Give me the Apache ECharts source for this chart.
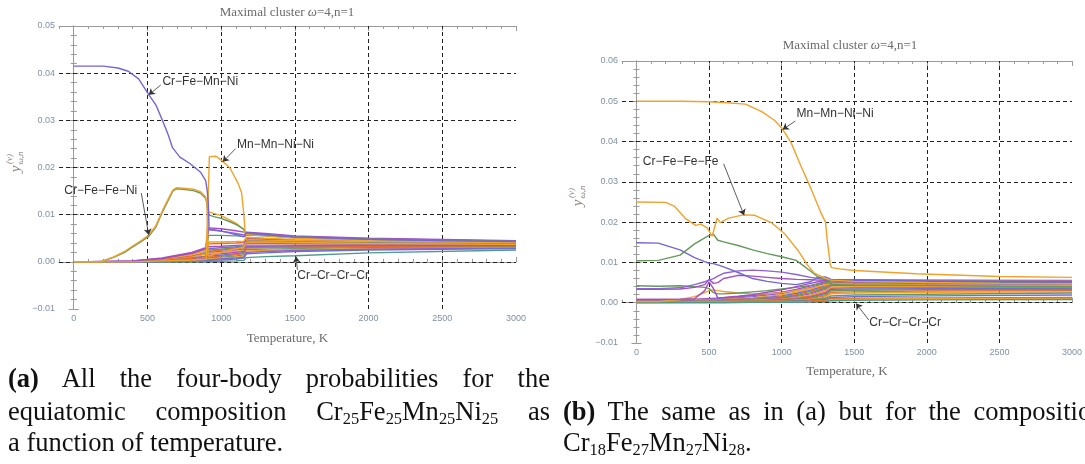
<!DOCTYPE html>
<html>
<head>
<meta charset="UTF-8">
<title>Maximal cluster probabilities</title>
<script src="https://cdn.jsdelivr.net/npm/echarts@6/dist/echarts.min.js"></script>
<style>
    html, body { margin: 0; padding: 0; background: #fff; overflow: hidden; }
    #main { position: absolute; left: 0; top: 0; width: 1085px; height: 464px; }
    .cap { position: absolute; font-family: 'Liberation Serif', serif; font-size: 26.5px; line-height: 32px; color: #111; white-space: nowrap; }
    .cap sub { font-size: 62%; vertical-align: -0.25em; line-height: 0; }
    .just { text-align: justify; text-align-last: justify; }
</style>
</head>
<body>
<div id="main"></div>
<!-- captions -->
<div class="cap just" style="left:8px;top:362px;width:542px;"><b>(a)</b> All the four-body probabilities for the</div>
<div class="cap just" style="left:8px;top:395px;width:542px;">equiatomic composition Cr<sub>25</sub>Fe<sub>25</sub>Mn<sub>25</sub>Ni<sub>25</sub> as</div>
<div class="cap" style="left:8px;top:426px;">a function of temperature.</div>
<div class="cap" style="left:563px;top:395px;word-spacing:6px;"><b>(b)</b> The same as in (a) but for the composition</div>
<div class="cap" style="left:563px;top:426px;">Cr<sub>18</sub>Fe<sub>27</sub>Mn<sub>27</sub>Ni<sub>28</sub>.</div>

<script type="text/javascript">
// ---- tick / grid values ----
var xTicks = [0, 500, 1000, 1500, 2000, 2500, 3000];
var xGrid = [500, 1000, 1500, 2000, 2500];
var yGridA = [0, 0.01, 0.02, 0.03, 0.04];
var yGridB = [0, 0.01, 0.02, 0.03, 0.04, 0.05];

// ---- (a) equiatomic: highlighted curves ----
var tCrFeMnNiA = [0, 200, 300, 370, 440, 510, 560, 600, 640, 670, 720, 790, 860, 895, 905, 913, 918, 950, 1000, 1060, 1110, 1140, 1155, 1170, 1200, 1300, 1500, 2000, 2500, 3000];
var crFeMnNiA = [0.0415, 0.0415, 0.0411, 0.0404, 0.0388, 0.0354, 0.0331, 0.0301, 0.0270, 0.0242, 0.0222, 0.0208, 0.0190, 0.0172, 0.0152, 0.0124, 0.0070, 0.0068, 0.0065, 0.0061, 0.0057, 0.0054, 0.0053, 0.0062, 0.0061, 0.0058, 0.0053, 0.0048, 0.0045, 0.0043];
var tCrFeFeNiA = [0, 180, 275, 345, 392, 462, 509, 556, 602, 637, 672, 696, 742, 812, 859, 894, 903, 912, 950, 1000, 1060, 1110, 1150, 1170, 1200, 1300, 1500, 2000, 2500, 3000];
var crFeFeNiA = [0, 0, 0.0011, 0.0022, 0.0032, 0.0046, 0.0057, 0.0076, 0.0109, 0.0131, 0.0152, 0.0157, 0.0156, 0.0154, 0.0149, 0.0138, 0.0127, 0.0012, 0.0016, 0.0020, 0.0024, 0.0028, 0.0031, 0.0041, 0.0042, 0.0042, 0.0041, 0.0039, 0.0038, 0.0037];
var greenTwinA = [0, 0, 0.0010, 0.0020, 0.0030, 0.0044, 0.0054, 0.0073, 0.0106, 0.0128, 0.0150, 0.0155, 0.0154, 0.0151, 0.0146, 0.0135, 0.0124, 0.0100, 0.0096, 0.0092, 0.0085, 0.0078, 0.0070, 0.0061, 0.0060, 0.0057, 0.0053, 0.0048, 0.0045, 0.0043];
var tMnMnNiNiA = [0, 400, 600, 800, 900, 912, 920, 964, 1003, 1060, 1114, 1139, 1155, 1162, 1170, 1200, 1300, 1500, 2000, 2500, 3000];
var mnMnNiNiA = [0, 0, 0.0002, 0.0004, 0.0006, 0.0008, 0.0223, 0.0224, 0.0215, 0.0199, 0.0167, 0.0146, 0.0096, 0.0065, 0.0046, 0.0047, 0.0046, 0.0045, 0.0043, 0.0042, 0.0041];

// ---- (a) remaining curves (bundle) ----
var tBA = [0, 400, 600, 800, 895, 915, 1000, 1100, 1155, 1170, 1300, 1500, 2000, 3000];
var bundleA = [
    [0, 0.0002, 0.0008, 0.0020, 0.0030, 0.0072, 0.0070, 0.0066, 0.0063, 0.0063, 0.0060, 0.0055, 0.0050, 0.0045],
    [0, 0.0001, 0.0006, 0.0017, 0.0026, 0.0068, 0.0065, 0.0060, 0.0057, 0.0060, 0.0058, 0.0054, 0.0049, 0.0044],
    [0, 0.0001, 0.0004, 0.0012, 0.0020, 0.0056, 0.0056, 0.0055, 0.0054, 0.0057, 0.0055, 0.0051, 0.0047, 0.0042],
    [0, 0.0001, 0.0005, 0.0015, 0.0024, 0.0106, 0.0098, 0.0082, 0.0068, 0.0058, 0.0055, 0.0050, 0.0046, 0.0042],
    [0, 0.0001, 0.0004, 0.0012, 0.0018, 0.0038, 0.0039, 0.0040, 0.0041, 0.0050, 0.0049, 0.0046, 0.0043, 0.0040],
    [0, 0, 0.0003, 0.0010, 0.0016, 0.0042, 0.0042, 0.0043, 0.0044, 0.0052, 0.0050, 0.0047, 0.0044, 0.0041],
    [0, 0.0002, 0.0007, 0.0018, 0.0028, 0.0032, 0.0033, 0.0035, 0.0036, 0.0048, 0.0047, 0.0045, 0.0042, 0.0040],
    [0, 0, 0.0002, 0.0008, 0.0012, 0.0028, 0.0030, 0.0032, 0.0034, 0.0045, 0.0045, 0.0043, 0.0041, 0.0039],
    [0, 0, 0.0002, 0.0006, 0.0010, 0.0025, 0.0027, 0.0030, 0.0032, 0.0043, 0.0043, 0.0042, 0.0040, 0.0038],
    [0, 0, 0.0002, 0.0007, 0.0011, 0.0022, 0.0025, 0.0028, 0.0030, 0.0040, 0.0040, 0.0039, 0.0038, 0.0037],
    [0, 0, 0.0001, 0.0005, 0.0009, 0.0020, 0.0022, 0.0025, 0.0027, 0.0038, 0.0038, 0.0038, 0.0037, 0.0036],
    [0, 0, 0.0001, 0.0004, 0.0008, 0.0018, 0.0020, 0.0022, 0.0024, 0.0035, 0.0035, 0.0035, 0.0035, 0.0035],
    [0, 0, 0.0001, 0.0004, 0.0007, 0.0015, 0.0017, 0.0020, 0.0022, 0.0033, 0.0033, 0.0034, 0.0034, 0.0034],
    [0, 0, 0.0001, 0.0003, 0.0006, 0.0012, 0.0014, 0.0017, 0.0020, 0.0031, 0.0031, 0.0032, 0.0033, 0.0033],
    [0, 0, 0.0001, 0.0003, 0.0005, 0.0010, 0.0012, 0.0015, 0.0018, 0.0029, 0.0030, 0.0031, 0.0032, 0.0032],
    [0, 0, 0, 0.0002, 0.0004, 0.0008, 0.0010, 0.0012, 0.0015, 0.0026, 0.0027, 0.0028, 0.0030, 0.0031],
    [0, 0, 0, 0.0002, 0.0003, 0.0006, 0.0008, 0.0010, 0.0012, 0.0023, 0.0024, 0.0026, 0.0028, 0.0030],
    [0, 0, 0, 0.0001, 0.0002, 0.0004, 0.0006, 0.0008, 0.0010, 0.0020, 0.0022, 0.0024, 0.0027, 0.0029],
    [0, 0, 0, 0.0001, 0.0002, 0.0003, 0.0004, 0.0006, 0.0008, 0.0017, 0.0019, 0.0022, 0.0025, 0.0028],
    [0, 0, 0, 0, 0, 0.0001, 0.0001, 0.0002, 0.0003, 0.0009, 0.0011, 0.0013, 0.0019, 0.0025]   // Cr-Cr-Cr-Cr
];

// ---- (b) Cr18Fe27Mn27Ni28: highlighted curves ----
var tMnMnNiNiB = [0, 300, 500, 600, 750, 860, 950, 1000, 1064, 1132, 1200, 1268, 1302, 1313, 1336, 1345, 1400, 1500, 1925, 2500, 3000];
var mnMnNiNiB = [0.0500, 0.0500, 0.0499, 0.0497, 0.0493, 0.0475, 0.0453, 0.0434, 0.0398, 0.0340, 0.0285, 0.0225, 0.0200, 0.0158, 0.0092, 0.0087, 0.0084, 0.0080, 0.0072, 0.0065, 0.0063];
var tCrFeFeFeB = [0, 200, 260, 340, 408, 442, 487, 521, 555, 577, 634, 736, 815, 928, 1019, 1110, 1177, 1223, 1290, 1340, 1500, 2000, 2500, 3000];
var crFeFeFeB = [0.0250, 0.0249, 0.0240, 0.0208, 0.0192, 0.0195, 0.0186, 0.0165, 0.0210, 0.0199, 0.0210, 0.0218, 0.0217, 0.0199, 0.0172, 0.0131, 0.0094, 0.0074, 0.0062, 0.0056, 0.0053, 0.0050, 0.0048, 0.0047];
var tB = [0, 150, 300, 400, 470, 500, 530, 560, 600, 700, 800, 900, 1000, 1100, 1200, 1250, 1300, 1330, 1345, 1400, 1500, 2000, 2500, 3000];
var greenB1 = [0.0104, 0.0105, 0.0118, 0.0146, 0.0161, 0.0167, 0.0170, 0.0155, 0.0151, 0.0142, 0.0131, 0.0122, 0.0114, 0.0105, 0.0078, 0.0064, 0.0058, 0.0056, 0.0055, 0.0054, 0.0053, 0.0050, 0.0049, 0.0048];
var blueB1 = [0.0149, 0.0148, 0.0131, 0.0112, 0.0102, 0.0098, 0.0097, 0.0094, 0.0089, 0.0075, 0.0060, 0.0053, 0.0048, 0.0045, 0.0052, 0.0063, 0.0064, 0.0060, 0.0057, 0.0057, 0.0056, 0.0054, 0.0053, 0.0052];
var purpleB1 = [0.0035, 0.0035, 0.0037, 0.0045, 0.0052, 0.0056, 0.0060, 0.0066, 0.0073, 0.0079, 0.0081, 0.0079, 0.0076, 0.0070, 0.0063, 0.0060, 0.0058, 0.0057, 0.0056, 0.0056, 0.0055, 0.0053, 0.0052, 0.0051];
var magentaB2 = [0.0008, 0.0008, 0.0009, 0.0010, 0.0030, 0.0052, 0.0035, 0.0012, 0.0013, 0.0016, 0.0020, 0.0026, 0.0032, 0.0040, 0.0048, 0.0052, 0.0055, 0.0056, 0.0056, 0.0055, 0.0054, 0.0052, 0.0051, 0.0050];
var purpleB3 = [0.0033, 0.0033, 0.0034, 0.0038, 0.0045, 0.0058, 0.0048, 0.0050, 0.0060, 0.0068, 0.0066, 0.0063, 0.0060, 0.0058, 0.0057, 0.0056, 0.0056, 0.0055, 0.0055, 0.0054, 0.0052, 0.0051, 0.0050, 0.0050];
var greenB2 = [0.0042, 0.0041, 0.0042, 0.0040, 0.0038, 0.0035, 0.0025, 0.0022, 0.0022, 0.0024, 0.0027, 0.0030, 0.0034, 0.0038, 0.0043, 0.0046, 0.0049, 0.0050, 0.0046, 0.0045, 0.0044, 0.0043, 0.0041, 0.0040];
var orangeB3 = [0.0003, 0.0003, 0.0008, 0.0015, 0.0025, 0.0030, 0.0032, 0.0030, 0.0028, 0.0024, 0.0022, 0.0022, 0.0025, 0.0030, 0.0036, 0.0040, 0.0044, 0.0047, 0.0048, 0.0047, 0.0046, 0.0044, 0.0043, 0.0043];

// ---- (b) remaining curves (bundle) ----
var tBB = [0, 400, 600, 800, 1000, 1100, 1200, 1300, 1340, 1350, 1500, 2000, 3000];
var bundleB = [
    [0.0008, 0.0009, 0.0012, 0.0018, 0.0026, 0.0033, 0.0042, 0.0052, 0.0056, 0.0057, 0.0057, 0.0056, 0.0055],
    [0.0006, 0.0007, 0.0010, 0.0015, 0.0023, 0.0030, 0.0038, 0.0048, 0.0054, 0.0055, 0.0055, 0.0055, 0.0054],
    [0.0005, 0.0006, 0.0008, 0.0012, 0.0020, 0.0026, 0.0035, 0.0045, 0.0052, 0.0053, 0.0053, 0.0053, 0.0053],
    [0.0004, 0.0005, 0.0007, 0.0010, 0.0017, 0.0023, 0.0031, 0.0042, 0.0050, 0.0051, 0.0051, 0.0051, 0.0051],
    [0.0004, 0.0004, 0.0006, 0.0009, 0.0015, 0.0020, 0.0028, 0.0039, 0.0048, 0.0049, 0.0049, 0.0049, 0.0049],
    [0.0003, 0.0004, 0.0005, 0.0008, 0.0013, 0.0018, 0.0025, 0.0036, 0.0045, 0.0046, 0.0046, 0.0047, 0.0047],
    [0.0003, 0.0003, 0.0004, 0.0007, 0.0011, 0.0015, 0.0022, 0.0033, 0.0042, 0.0043, 0.0043, 0.0044, 0.0045],
    [0.0002, 0.0003, 0.0004, 0.0006, 0.0009, 0.0013, 0.0019, 0.0030, 0.0039, 0.0040, 0.0040, 0.0041, 0.0042],
    [0.0002, 0.0002, 0.0003, 0.0005, 0.0008, 0.0011, 0.0016, 0.0026, 0.0036, 0.0037, 0.0037, 0.0038, 0.0039],
    [0.0002, 0.0002, 0.0003, 0.0004, 0.0007, 0.0009, 0.0014, 0.0023, 0.0033, 0.0034, 0.0034, 0.0035, 0.0036],
    [0.0001, 0.0002, 0.0002, 0.0004, 0.0006, 0.0008, 0.0012, 0.0020, 0.0030, 0.0031, 0.0031, 0.0032, 0.0033],
    [0.0001, 0.0001, 0.0002, 0.0003, 0.0005, 0.0007, 0.0010, 0.0017, 0.0026, 0.0027, 0.0027, 0.0029, 0.0030],
    [0.0001, 0.0001, 0.0002, 0.0003, 0.0004, 0.0006, 0.0008, 0.0014, 0.0022, 0.0023, 0.0024, 0.0026, 0.0027],
    [0.0001, 0.0001, 0.0001, 0.0002, 0.0003, 0.0005, 0.0007, 0.0011, 0.0017, 0.0018, 0.0019, 0.0021, 0.0024],
    [0.0001, 0.0001, 0.0001, 0.0002, 0.0003, 0.0004, 0.0005, 0.0008, 0.0013, 0.0014, 0.0015, 0.0017, 0.0019],
    [0.0001, 0.0001, 0.0001, 0.0001, 0.0002, 0.0003, 0.0004, 0.0006, 0.0010, 0.0011, 0.0011, 0.0012, 0.0013],
    [0, 0.0001, 0.0001, 0.0001, 0.0002, 0.0002, 0.0003, 0.0004, 0.0008, 0.0009, 0.0009, 0.0010, 0.0010],
    [0, 0, 0, 0.0001, 0.0001, 0.0001, 0.0002, 0.0003, 0.0005, 0.0005, 0.0006, 0.0007, 0.0008]   // Cr-Cr-Cr-Cr
];

// ---- labels with arrows: [text, labelT, labelY, fromT, fromY, toT, toY] ----
var notesA = [
    ['Cr\u2212Fe\u2212Mn\u2212Ni', 598, 0.0381, 590, 0.0375, 509, 0.0354],
    ['Mn\u2212Mn\u2212Ni\u2212Ni', 1104, 0.0249, 1098, 0.0240, 1011, 0.0212],
    ['Cr\u2212Fe\u2212Fe\u2212Ni', -68, 0.0151, 458, 0.0146, 509, 0.0057],
    ['Cr\u2212Cr\u2212Cr\u2212Cr', 1513, -0.0029, 1517, -0.0017, 1508, 0.0011]
];
var notesB = [
    ['Mn\u2212Mn\u2212Ni\u2212Ni', 1099, 0.0469, 1094, 0.0451, 1007, 0.0430],
    ['Cr\u2212Fe\u2212Fe\u2212Fe', 40, 0.0351, 600, 0.0345, 741, 0.0217],
    ['Cr\u2212Cr\u2212Cr\u2212Cr', 1600, -0.0050, 1600, -0.0043, 1513, -0.0002]
];

// ---- styles ----
var C_BLUE = '#7466d6', C_ORANGE = '#f0a22a', C_GREEN = '#64995a', C_MAG = '#a54ec3', C_RED = '#ec6a2a', C_VIO = '#8c62d6', C_TEAL = '#4f9a86';
var bundleColorsA = [C_MAG, C_VIO, '#5f9a6e', C_ORANGE, C_RED, C_ORANGE, C_MAG, '#6a70d8', C_GREEN, C_RED, '#9b5cd0', C_ORANGE, '#b052b8', '#6a70d8', C_RED, '#5f9a6e', C_ORANGE, '#9b5cd0', '#6a70d8', C_TEAL];
var bundleColorsB = [C_MAG, C_VIO, C_ORANGE, '#6a70d8', C_RED, C_GREEN, '#9b5cd0', C_ORANGE, C_RED, '#6a70d8', C_GREEN, C_RED, C_ORANGE, '#5f9a6e', '#6a70d8', C_RED, C_ORANGE, C_TEAL];
var FRAME = '#9a9a9a', TICKTXT = '#7f90a6', TITLE = '#6b6b6b';

function pairs(ts, vs) {
    return ts.map(function (t, i) { return [t, vs[i]]; });
}
function fmtY(v) {
    var s = Math.abs(v).toFixed(2);
    return (v < -1e-9 ? '\u2212' : '') + s;
}

function xAxesFor(gi, nameGap) {
    var base = { gridIndex: gi, type: 'value', min: -100, max: 3000, interval: 100, splitLine: { show: false } };
    return [
        Object.assign({}, base, {
            position: 'bottom',
            axisLine: { show: true, lineStyle: { color: FRAME, width: 1 } },
            axisTick: { show: true, inside: true, length: 3, lineStyle: { color: FRAME } },
            axisLabel: { show: true, customValues: xTicks, formatter: function (v) { return String(v); }, fontSize: 9, color: TICKTXT, margin: 5, fontFamily: 'Liberation Sans' },
            name: 'Temperature, K', nameLocation: 'middle', nameGap: nameGap,
            nameTextStyle: { fontFamily: 'Liberation Serif', fontSize: 13, color: TITLE }
        }),
        Object.assign({}, base, {
            position: 'bottom',
            axisLine: { show: false },
            axisTick: { show: true, inside: true, length: 5, customValues: xTicks, lineStyle: { color: FRAME } },
            axisLabel: { show: false }
        }),
        Object.assign({}, base, {
            position: 'top',
            axisLine: { show: true, lineStyle: { color: FRAME, width: 1 } },
            axisTick: { show: true, inside: true, length: 3, lineStyle: { color: FRAME } },
            axisLabel: { show: false }
        }),
        Object.assign({}, base, {
            position: 'top',
            axisLine: { show: false },
            axisTick: { show: true, inside: true, length: 5, customValues: xTicks, lineStyle: { color: FRAME } },
            axisLabel: { show: false }
        })
    ];
}
function yAxesFor(gi, max) {
    var base = {
        gridIndex: gi, type: 'value', min: -0.01, max: max, interval: 0.01,
        splitLine: { show: false },
        axisLine: { show: true, lineStyle: { color: FRAME, width: 1 } },
        axisTick: { show: true, inside: true, length: 5, lineStyle: { color: FRAME } },
        minorTick: { show: true, splitNumber: 5, length: 3, lineStyle: { color: FRAME } }
    };
    return [
        Object.assign({}, base, {
            position: 'left',
            axisLabel: { show: true, formatter: fmtY, fontSize: 9, color: TICKTXT, margin: 4, fontFamily: 'Liberation Sans' }
        }),
        Object.assign({}, base, { position: 'right', axisLabel: { show: false } })
    ];
}

function lineSeries(xi, yi, ts, vs, color) {
    return {
        type: 'line', xAxisIndex: xi, yAxisIndex: yi, data: pairs(ts, vs),
        showSymbol: false, symbol: 'none', silent: true, z: 3,
        lineStyle: { color: color, width: 1.4 }
    };
}
function gridSeries(xi, yi, xs, ys) {
    return {
        type: 'line', xAxisIndex: xi, yAxisIndex: yi, data: [], silent: true, z: 1,
        markLine: {
            silent: true, symbol: 'none', z: 1, animation: false,
            label: { show: false },
            lineStyle: { color: '#222', type: [4, 3], width: 1 },
            data: xs.map(function (v) { return { xAxis: v }; }).concat(ys.map(function (v) { return { yAxis: v }; }))
        }
    };
}
function noteSeries(xi, yi, notes) {
    return {
        type: 'line', xAxisIndex: xi, yAxisIndex: yi, data: [], silent: true, z: 10,
        markLine: {
            silent: true, z: 10, animation: false, symbol: ['none', 'arrow'], symbolSize: 6,
            label: { show: false },
            lineStyle: { color: '#333', type: 'solid', width: 0.8 },
            data: notes.map(function (n) { return [{ coord: [n[3], n[4]] }, { coord: [n[5], n[6]] }]; })
        },
        markPoint: {
            silent: true, z: 10, animation: false, symbol: 'circle', symbolSize: 1,
            itemStyle: { color: 'rgba(0,0,0,0)' },
            label: { show: true, position: 'right', distance: 0, formatter: '{b}', color: '#333', fontSize: 12, fontFamily: 'Liberation Sans' },
            data: notes.map(function (n) { return { name: n[0], coord: [n[1], n[2]], value: 0 }; })
        }
    };
}

var series = [];
series.push(gridSeries(0, 0, xGrid, yGridA));
bundleA.forEach(function (vs, i) { series.push(lineSeries(0, 0, tBA, vs, bundleColorsA[i])); });
series.push(lineSeries(0, 0, tCrFeFeNiA, greenTwinA, C_GREEN));
series.push(lineSeries(0, 0, tCrFeFeNiA, crFeFeNiA, C_ORANGE));
series.push(lineSeries(0, 0, tMnMnNiNiA, mnMnNiNiA, C_ORANGE));
series.push(lineSeries(0, 0, tCrFeMnNiA, crFeMnNiA, C_BLUE));
series.push(noteSeries(0, 0, notesA));

series.push(gridSeries(4, 2, xGrid, yGridB));
bundleB.forEach(function (vs, i) { series.push(lineSeries(4, 2, tBB, vs, bundleColorsB[i])); });
series.push(lineSeries(4, 2, tB, orangeB3, C_ORANGE));
series.push(lineSeries(4, 2, tB, greenB2, C_GREEN));
series.push(lineSeries(4, 2, tB, magentaB2, C_MAG));
series.push(lineSeries(4, 2, tB, purpleB3, C_MAG));
series.push(lineSeries(4, 2, tB, purpleB1, C_VIO));
series.push(lineSeries(4, 2, tB, blueB1, C_BLUE));
series.push(lineSeries(4, 2, tB, greenB1, C_GREEN));
series.push(lineSeries(4, 2, tCrFeFeFeB, crFeFeFeB, C_ORANGE));
series.push(lineSeries(4, 2, tMnMnNiNiB, mnMnNiNiB, C_ORANGE));
series.push(noteSeries(4, 2, notesB));

// y-axis name y^(nu)_(omega,n), drawn rotated
function yName(cx, cy) {
    return {
        type: 'group', x: cx, y: cy, rotation: Math.PI / 2, silent: true,
        children: [
            { type: 'text', x: -6, y: 0, style: { text: 'y', fontSize: 15, fontStyle: 'italic', fontFamily: 'Liberation Serif', fill: '#8c7f78', align: 'center', verticalAlign: 'middle' } },
            { type: 'text', x: 4, y: -6, style: { text: '(\u03bd)', fontSize: 9, fontStyle: 'italic', fontFamily: 'Liberation Serif', fill: '#8c7f78', align: 'center', verticalAlign: 'middle' } },
            { type: 'text', x: 5, y: 5, style: { text: '\u03c9,n', fontSize: 9, fontStyle: 'italic', fontFamily: 'Liberation Serif', fill: '#8c7f78', align: 'center', verticalAlign: 'middle' } }
        ]
    };
}

var myChart = echarts.init(document.getElementById('main'), null, { renderer: 'canvas' });
var option = {
    animation: false,
    backgroundColor: '#fff',
    title: [
        { text: 'Maximal cluster {i|\u03c9}=4,n=1', left: 287, top: 6, textAlign: 'center', padding: 0,
          textStyle: { fontFamily: 'Liberation Serif', fontSize: 13, fontWeight: 'normal', color: TITLE, rich: { i: { fontStyle: 'italic', fontFamily: 'Liberation Serif', fontSize: 13, color: TITLE } } } },
        { text: 'Maximal cluster {i|\u03c9}=4,n=1', left: 850, top: 39, textAlign: 'center', padding: 0,
          textStyle: { fontFamily: 'Liberation Serif', fontSize: 13, fontWeight: 'normal', color: TITLE, rich: { i: { fontStyle: 'italic', fontFamily: 'Liberation Serif', fontSize: 13, color: TITLE } } } }
    ],
    grid: [
        { left: 59, top: 26, width: 457, height: 283, containLabel: false },
        { left: 622, top: 61, width: 456, height: 282, containLabel: false }
    ],
    xAxis: xAxesFor(0, 23).concat(xAxesFor(1, 22)),
    yAxis: yAxesFor(0, 0.05).concat(yAxesFor(1, 0.06)),
    graphic: [yName(16, 163), yName(578, 197)],
    series: series
};
myChart.setOption(option);
</script>
</body>
</html>
